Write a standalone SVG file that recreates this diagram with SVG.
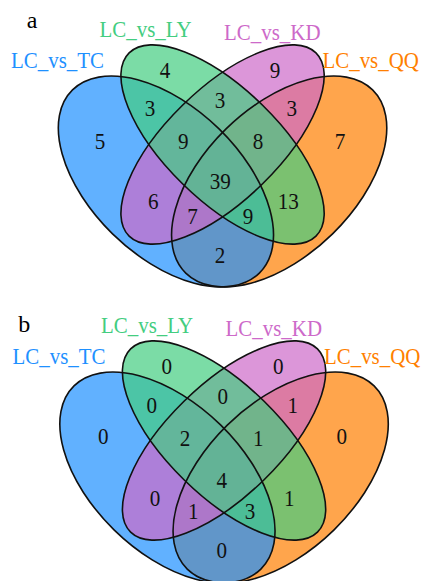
<svg xmlns="http://www.w3.org/2000/svg" width="422" height="581" viewBox="0 0 422 581">
<style>
text{font-family:"Liberation Serif","Times New Roman",serif;}
.lab{font-size:22.5px;text-anchor:middle;}
.num{font-size:23px;text-anchor:middle;fill:#111;}
.pl{font-size:24px;fill:#000;}
.f{fill-opacity:0.7;stroke:none;}
.o{fill:none;stroke:#111;stroke-width:1.6;vector-effect:non-scaling-stroke;}
</style>
<defs>
<g id="shapes">
<g transform="matrix(377.5,0,0,-370,33.8,355.4)">
<ellipse class="f" cx="0" cy="0" rx="0.35" ry="0.2" fill="#FF7F00" transform="translate(0.65,0.47) rotate(45)"/>
<ellipse class="f" cx="0" cy="0" rx="0.35" ry="0.2" fill="#1E90FF" transform="translate(0.35,0.47) rotate(-45)"/>
<ellipse class="f" cx="0" cy="0" rx="0.35" ry="0.15" fill="#CD69C9" transform="translate(0.5,0.57) rotate(45)"/>
<ellipse class="f" cx="0" cy="0" rx="0.35" ry="0.15" fill="#43CD80" transform="translate(0.5,0.57) rotate(-45)"/>
<ellipse class="o" cx="0" cy="0" rx="0.35" ry="0.2" transform="translate(0.65,0.47) rotate(45)"/>
<ellipse class="o" cx="0" cy="0" rx="0.35" ry="0.2" transform="translate(0.35,0.47) rotate(-45)"/>
<ellipse class="o" cx="0" cy="0" rx="0.35" ry="0.15" transform="translate(0.5,0.57) rotate(45)"/>
<ellipse class="o" cx="0" cy="0" rx="0.35" ry="0.15" transform="translate(0.5,0.57) rotate(-45)"/>
</g>
<text class="lab" fill="#1E90FF" transform="translate(57.5,68) scale(0.93,1)">LC_vs_TC</text>
<text class="lab" fill="#43CD80" transform="translate(145.5,36.7) scale(0.93,1)">LC_vs_LY</text>
<text class="lab" fill="#CD69C9" transform="translate(272.3,40) scale(0.93,1)">LC_vs_KD</text>
<text class="lab" fill="#FF7F00" transform="translate(370.7,68) scale(0.93,1)">LC_vs_QQ</text>
</g>
</defs>

<g id="panel-a">
<text id="label-a" class="pl" x="26.7" y="28.3">a</text>
<use id="venn-a" href="#shapes"/>
<g id="counts-a">
<text class="num" transform="translate(100,149.4) scale(0.92,1)">5</text>
<text class="num" transform="translate(165,77.7) scale(0.92,1)">4</text>
<text class="num" transform="translate(150,115.7) scale(0.92,1)">3</text>
<text class="num" transform="translate(220,107.7) scale(0.92,1)">3</text>
<text class="num" transform="translate(275,77.7) scale(0.92,1)">9</text>
<text class="num" transform="translate(291.7,115.7) scale(0.92,1)">3</text>
<text class="num" transform="translate(340,149.4) scale(0.92,1)">7</text>
<text class="num" transform="translate(183.3,149.4) scale(0.92,1)">9</text>
<text class="num" transform="translate(258,149.4) scale(0.92,1)">8</text>
<text class="num" transform="translate(220.3,189.4) scale(0.92,1)">39</text>
<text class="num" transform="translate(153.3,209.4) scale(0.92,1)">6</text>
<text class="num" transform="translate(192.5,224) scale(0.92,1)">7</text>
<text class="num" transform="translate(248,224) scale(0.92,1)">9</text>
<text class="num" transform="translate(288.3,209) scale(0.92,1)">13</text>
<text class="num" transform="translate(220,262.7) scale(0.92,1)">2</text>
</g>
</g>

<g id="panel-b">
<text id="label-b" class="pl" x="18.3" y="331.7">b</text>
<use id="venn-b" href="#shapes" transform="translate(1.5,296)"/>
<g id="counts-b" transform="translate(1.5,296)">
<text class="num" transform="translate(101.8,148.4) scale(0.92,1)">0</text>
<text class="num" transform="translate(165.2,78.4) scale(0.92,1)">0</text>
<text class="num" transform="translate(150.2,116.7) scale(0.92,1)">0</text>
<text class="num" transform="translate(221.2,108.4) scale(0.92,1)">0</text>
<text class="num" transform="translate(276.8,78.4) scale(0.92,1)">0</text>
<text class="num" transform="translate(291.2,116.7) scale(0.92,1)">1</text>
<text class="num" transform="translate(340.2,148.4) scale(0.92,1)">0</text>
<text class="num" transform="translate(183.5,150) scale(0.92,1)">2</text>
<text class="num" transform="translate(256.8,150) scale(0.92,1)">1</text>
<text class="num" transform="translate(220.2,191.7) scale(0.92,1)">4</text>
<text class="num" transform="translate(153.5,210) scale(0.92,1)">0</text>
<text class="num" transform="translate(191.8,223.4) scale(0.92,1)">1</text>
<text class="num" transform="translate(248.5,223.4) scale(0.92,1)">3</text>
<text class="num" transform="translate(287.8,210) scale(0.92,1)">1</text>
<text class="num" transform="translate(220.2,261.7) scale(0.92,1)">0</text>
</g>
</g>
</svg>
